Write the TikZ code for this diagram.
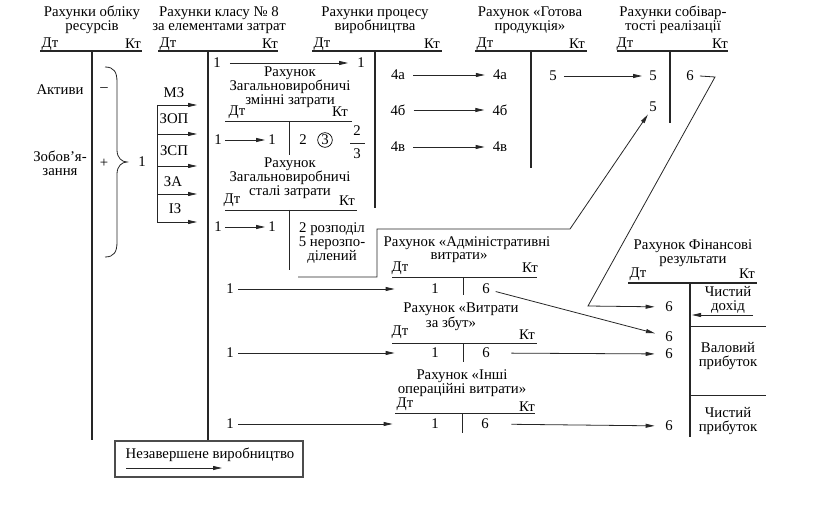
\documentclass[tikz,border=0pt]{standalone}
\usepackage{fontspec}
\setmainfont{Liberation Serif}
\usetikzlibrary{arrows.meta}
\newcommand{\fsz}{\fontsize{14.8}{14}\selectfont}
\begin{document}
\begin{tikzpicture}[x=1pt,y=-1pt,
  lbl/.style={inner sep=0pt, font=\fsz, align=center},
  tl/.style={line width=1.1pt, draw=black!85},
  ln/.style={line width=0.8pt, draw=black!85},
  arr/.style={line width=0.8pt, draw=black!85, -{Triangle[length=9pt,width=4pt]}}]
\useasboundingbox (0,0) rectangle (816,518);
% ---------- titles
\node[lbl] (t1) at (92,20) {Рахунки обліку\\ресурсів};
\node[lbl] (t2) at (219,20) {Рахунки класу № 8\\за елементами затрат};
\node[lbl] (t3) at (375,20) {Рахунки процесу\\виробництва};
\node[lbl] (t4) at (530,20) {Рахунок «Готова\\продукція»};
\node[lbl] (t5) at (673,20) {Рахунки собівар-\\тості реалізації};
% ---------- main T accounts
\node[lbl] (d1) at (50,44) {Дт};  \node[lbl] (k1) at (133,44) {Кт};
\draw[tl] (40,51) -- (142,51);  \draw[tl] (92,51) -- (92,440);
\node[lbl] (d2) at (168,44) {Дт}; \node[lbl] (k2) at (270,44) {Кт};
\draw[tl] (158,51) -- (278,51); \draw[tl] (208,51) -- (208,441);
\node[lbl] (d3) at (322,44) {Дт}; \node[lbl] (k3) at (432,44) {Кт};
\draw[tl] (312,51) -- (442,51); \draw[tl] (375,51) -- (375,208);
\node[lbl] (d4) at (485,44) {Дт}; \node[lbl] (k4) at (577,44) {Кт};
\draw[tl] (475,51) -- (587,51); \draw[tl] (531,51) -- (531,168);
\node[lbl] (d5) at (625,44) {Дт}; \node[lbl] (k5) at (720,44) {Кт};
\draw[tl] (617,51) -- (728,51); \draw[tl] (670,51) -- (670,123);
% ---------- resources account
\node[lbl] (akt) at (60,90) {Активи};
\node[lbl] (minus) at (104,90) {–};
\node[lbl] (zob) at (60,163) {Зобов’я-\\зання};
\node[lbl] (plus) at (104,163) {+};
\node[lbl] (one0) at (142,162) {1};
\draw[ln] (105,67) .. controls (114,67) and (117,72) .. (117,82) -- (117,150)
  .. controls (117,158) and (122,162) .. (127,162)
  .. controls (122,162) and (117,166) .. (117,174) -- (117,242)
  .. controls (117,252) and (114,257) .. (105,257);
% ---------- cost elements
\node[lbl] (mz) at (174,93) {МЗ};
\node[lbl] (zop) at (174,119) {ЗОП};
\node[lbl] (zsp) at (174,151) {ЗСП};
\node[lbl] (za) at (173,182) {ЗА};
\node[lbl] (iz) at (175,209) {ІЗ};
\coordinate (lt) at (157,105); \coordinate (lb) at (157,222);
\draw[ln] (lt) -- (lb);
\foreach \y/\n in {105/a,134/b,166/c,194/d,222/e}{
  \coordinate (ls\n) at (157,\y); \coordinate (le\n) at (197,\y);
  \draw[arr] (ls\n) -- (le\n);}
% ---------- variable overheads
\node[lbl] (o1a) at (217,63) {1};
\node[lbl] (o1b) at (361,63) {1};
\draw[arr, shorten <=9pt, shorten >=9pt] (o1a) -- (o1b);
\node[lbl] (zvz) at (290,87) {Рахунок\\Загальновиробничі\\змінні затрати};
\node[lbl] (dz) at (237,112) {Дт}; \node[lbl] (kz) at (340,112) {Кт};
\draw[ln] (225,121) -- (352,121); \draw[ln] (289,121) -- (289,155);
\node[lbl] (o2a) at (218,140) {1}; \node[lbl] (o2b) at (272,140) {1};
\draw[arr, shorten <=3pt, shorten >=3pt] (o2a) -- (o2b);
\node[lbl] (two) at (303,140) {2};
\node[lbl, circle, draw, inner sep=0.8pt, line width=0.7pt] (c3) at (325,140) {3};
\node[lbl] (fn) at (357,131) {2}; \node[lbl] (fd) at (357,154) {3};
\draw[ln] (350,143) -- (365,143);
% ---------- fixed overheads
\node[lbl] (zvs) at (290,178) {Рахунок\\Загальновиробничі\\сталі затрати};
\node[lbl] (ds) at (232,200) {Дт}; \node[lbl] (ks) at (347,201) {Кт};
\draw[ln] (225,210) -- (357,210); \draw[ln] (289,210) -- (289,270);
\node[lbl] (o3a) at (218,227) {1}; \node[lbl] (o3b) at (272,227) {1};
\draw[arr, shorten <=3pt, shorten >=3pt] (o3a) -- (o3b);
\node[lbl] (rozp) at (332,243) {2 розподіл\\5 нерозпо-\\ділений};
% ---------- finished goods
\node[lbl] (a4a) at (398,75) {4а}; \node[lbl] (b4a) at (500,75) {4а};
\node[lbl] (a4b) at (398,110) {4б}; \node[lbl] (b4b) at (500,110) {4б};
\node[lbl] (a4v) at (398,147) {4в}; \node[lbl] (b4v) at (500,147) {4в};
\draw[arr, shorten <=8pt, shorten >=8pt] (a4a) -- (b4a);
\draw[arr, shorten <=8pt, shorten >=8pt] (a4b) -- (b4b);
\draw[arr, shorten <=8pt, shorten >=8pt] (a4v) -- (b4v);
% ---------- cost of sales
\node[lbl] (c5a) at (553,76) {5}; \node[lbl] (s5a) at (653,76) {5};
\draw[arr, shorten <=7pt, shorten >=7pt] (c5a) -- (s5a);
\node[lbl] (s5b) at (653,107) {5};
\node[lbl] (s6) at (690,76) {6};
\coordinate (br0) at (298,277); \coordinate (br1) at (377,277);
\coordinate (br2) at (377,229); \coordinate (br3) at (570,229);
\draw[arr, shorten >=3pt] (br0) -- (br1) -- (br2) -- (br3) -- (s5b);
% ---------- administrative
\node[lbl] (adm) at (467,243) {Рахунок «Адміністративні};
\node[lbl] (adm2) at (459,258) {витрати»};
\node[lbl] (da) at (400,268) {Дт}; \node[lbl] (ka) at (530,268) {Кт};
\draw[ln] (392,277) -- (537,277); \draw[ln] (463,277) -- (463,295);
\node[lbl] (a1) at (435,289) {1}; \node[lbl] (a6) at (486,289) {6};
\node[lbl] (l1) at (230,289) {1};
\draw[arr, shorten <=4.5pt, shorten >=36.5pt] (l1) -- (a1);
% ---------- selling
\node[lbl] (zb) at (461,309) {Рахунок «Витрати};
\node[lbl] (zb2) at (451,324) {за збут»};
\node[lbl] (db) at (400,332) {Дт}; \node[lbl] (kb) at (527,335) {Кт};
\draw[ln] (392,343) -- (537,343); \draw[ln] (463,343) -- (463,362);
\node[lbl] (b1) at (435,353) {1}; \node[lbl] (b6) at (486,353) {6};
\node[lbl] (l2) at (230,353) {1};
\draw[arr, shorten <=4.5pt, shorten >=36.5pt] (l2) -- (b1);
% ---------- other operating
\node[lbl] (inn) at (462,383) {Рахунок «Інші\\операційні витрати»};
\node[lbl] (dc) at (405,404) {Дт}; \node[lbl] (kc) at (527,407) {Кт};
\draw[ln] (395,413) -- (535,413); \draw[ln] (462,413) -- (462,433);
\node[lbl] (c1) at (435,424) {1}; \node[lbl] (c6) at (485,424) {6};
\node[lbl] (l3) at (230,424) {1};
\draw[arr, shorten <=4.5pt, shorten >=38.5pt] (l3) -- (c1);
% ---------- financial results
\node[lbl] (fin) at (693,253.5) {Рахунок Фінансові\\результати};
\node[lbl] (df) at (638,274) {Дт}; \node[lbl] (kf) at (747,274) {Кт};
\draw[tl] (628,283) -- (757,283); \draw[tl] (690,283) -- (690,437);
\node[lbl] (chd) at (728,300) {Чистий\\дохід};
\coordinate (chs) at (753,315); \coordinate (che) at (692,315);
\draw[arr] (chs) -- (che);
\draw[ln] (690,326) -- (766,326); \draw[ln] (690,395) -- (766,395);
\node[lbl] (val) at (728,356.5) {Валовий\\прибуток};
\node[lbl] (chp) at (728,421.5) {Чистий\\прибуток};
\node[lbl] (f6a) at (669,307) {6};
\node[lbl] (f6b) at (669,337) {6};
\node[lbl] (f6c) at (669,354) {6};
\node[lbl] (f6d) at (669,426) {6};
\coordinate (s6r) at (715,77); \coordinate (s6d) at (588,306);
\draw[arr, shorten >=10.5pt] ([xshift=6pt]s6.east) -- (s6r) -- (s6d) -- (f6a);
\draw[arr, shorten <=6pt, shorten >=10.5pt] (a6) -- (f6b);
\draw[arr, shorten <=21.5pt, shorten >=10.5pt] (b6) -- (f6c);
\draw[arr, shorten <=22.5pt, shorten >=10.5pt] (c6) -- (f6d);
% ---------- work in progress box
\node[draw=black!70, line width=1.4pt, minimum width=188pt, minimum height=36pt, inner sep=0pt] (nzv) at (209,459) {};
\node[lbl] (nzt) at (210,455) {Незавершене виробництво};
\coordinate (nzs) at (126,468); \coordinate (nze) at (222,468);
\draw[arr] (nzs) -- (nze);
\end{tikzpicture}
\end{document}
